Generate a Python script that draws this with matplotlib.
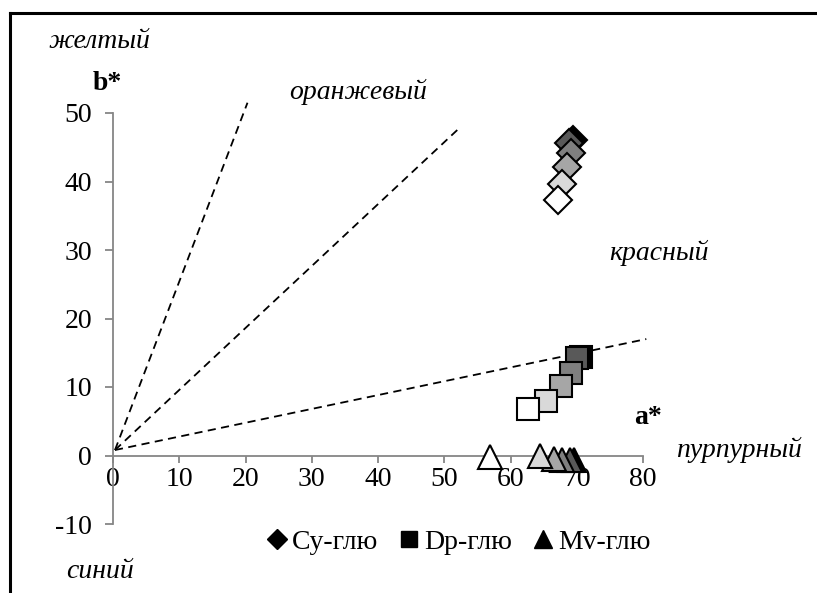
import matplotlib
matplotlib.use("Agg")
import matplotlib.pyplot as plt
from matplotlib.lines import Line2D

SERIF = ["Liberation Serif", "DejaVu Serif"]
plt.rcParams["font.family"] = SERIF
plt.rcParams["axes.unicode_minus"] = False

# colour ramp shared by all three series, darkest first
shades = ["#000000", "#595959", "#7f7f7f", "#a6a6a6", "#d9d9d9", "#ffffff"]

# Cy-glu (diamonds)
cy_a = [69.5, 68.9, 69.1, 68.5, 67.7, 67.2]
cy_b = [46.0, 45.6, 44.1, 42.1, 39.7, 37.3]
# Dp-glu (squares)
dp_a = [70.6, 70.1, 69.2, 67.6, 65.3, 62.7]
dp_b = [14.4, 14.3, 12.1, 10.2, 8.0, 6.8]
# Mv-glu (triangles)
mv_a = [69.6, 69.0, 67.7, 66.5, 64.5, 56.9]
mv_b = [-0.7, -0.6, -0.6, -0.5, -0.1, -0.2]

# dashed hue guide lines: start and end points
guide_start = (0.3, 0.8)
guide_ends = [(20.3, 51.5), (52.5, 48.0), (80.5, 17.0)]

x_ticks = [0, 10, 20, 30, 40, 50, 60, 70, 80]
y_ticks = [-10, 0, 10, 20, 30, 40, 50]

W, H = 817, 593
fig = plt.figure(figsize=(W / 100, H / 100), dpi=100)
ax = fig.add_axes([113 / W, 1 - 524 / H, 530 / W, 411 / H])
ax.set_xlim(0, 80)
ax.set_ylim(-10, 50)

AX = "#868686"
for s in ("top", "right"):
    ax.spines[s].set_visible(False)
ax.spines["bottom"].set_position(("data", 0))
ax.spines["left"].set_position(("data", 0))
for s in ("bottom", "left"):
    ax.spines[s].set_color(AX)
    ax.spines[s].set_linewidth(1.3)
ax.set_xticks(x_ticks)
ax.set_yticks(y_ticks)
ax.tick_params(axis="both", direction="out", width=1.3, color=AX,
               labelsize=20, labelcolor="black")
ax.tick_params(axis="x", length=5, pad=3)
ax.tick_params(axis="y", length=6, pad=9)
ax.patch.set_alpha(0)

for (ex, ey) in guide_ends:
    ax.plot([guide_start[0], ex], [guide_start[1], ey], ls=(0, (4.5, 3)),
            color="black", lw=1.3, clip_on=False, zorder=2)

for i, c in enumerate(shades):
    kw = dict(ls="none", mfc=c, mec="black", mew=1.5, clip_on=False, zorder=3 + i)
    ax.plot(cy_a[i], cy_b[i], marker="D", ms=14.5, **kw)
    ax.plot(dp_a[i], dp_b[i], marker="s", ms=16, **kw)
    ax.plot(mv_a[i], mv_b[i], marker="^", ms=17, **kw)

# colour-name labels
ital = dict(fontsize=20, style="italic", ha="center", va="center")
fig.text(99 / W, 1 - 41 / H, "желтый", **ital)
fig.text(358 / W, 1 - 92 / H, "оранжевый", **ital)
fig.text(659 / W, 1 - 253 / H, "красный", **ital)
fig.text(739 / W, 1 - 450 / H, "пурпурный", **ital)
fig.text(100 / W, 1 - 572 / H, "синий", **ital)
bold = dict(fontsize=20, fontweight="bold", ha="center", va="center")
fig.text(107 / W, 1 - 83 / H, "b*", **bold)
fig.text(648 / W, 1 - 418 / H, "a*", **bold)

handles = [Line2D([], [], ls="none", marker=m, ms=ms, mfc="black", mec="black")
           for m, ms in (("D", 10), ("s", 12), ("^", 13))]
fig.legend(handles, ["Cy-глю", "Dp-глю", "Mv-глю"], loc="center",
           bbox_to_anchor=(458 / W, 1 - 542 / H), ncol=3, frameon=False,
           fontsize=20, handlelength=0.8, handletextpad=0.15, columnspacing=0.7)

# outer frame (left and top edges only)
fig.add_artist(Line2D([10 / W, 10 / W], [0, 1 - 13 / H], color="black", lw=2.2))
fig.add_artist(Line2D([10 / W, 1], [1 - 13 / H, 1 - 13 / H], color="black", lw=2.2))

fig.savefig("out.png", dpi=100)
